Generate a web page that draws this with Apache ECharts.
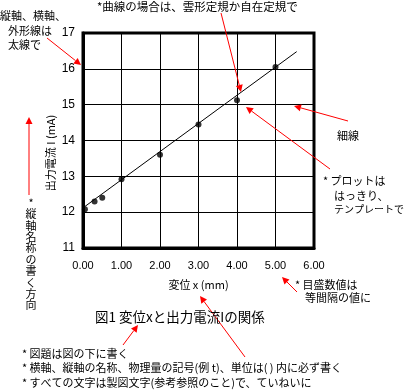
<!DOCTYPE html>
<html><head><meta charset="utf-8">
<script src="https://cdn.jsdelivr.net/npm/echarts@6/dist/echarts.min.js"></script>
<style>html,body{margin:0;padding:0;background:#fff}#c{width:405px;height:390px}</style>
</head><body><div id="c"></div>
<script>
// ---- data ----
const xValues = [0.05, 0.3, 0.5, 1.0, 2.0, 3.0, 4.0, 5.0];
const yValues = [12.08, 12.3, 12.4, 12.92, 13.6, 14.45, 15.12, 16.05];
const fitX = [0, 5.55];
const fitY = [12.12, 16.48];
const xTicks = ['0.00', '1.00', '2.00', '3.00', '4.00', '5.00', '6.00'];
const yTicks = ['11', '12', '13', '14', '15', '16', '17'];
const xName = '変位 x (mm)';
const yName = '出力電流 I (mA)';
const title = '図1 変位xと出力電流Iの関係';

const JP = '"Noto Sans CJK JP", sans-serif';
const RED = '#ff0000';

function arrow(x1, y1, x2, y2) {
  const a = Math.atan2(y2 - y1, x2 - x1);
  const L = 7, W = 3.5;
  const bx = x2 - L * Math.cos(a), by = y2 - L * Math.sin(a);
  const px = -Math.sin(a) * W, py = Math.cos(a) * W;
  return [
    { type: 'line', silent: true, shape: { x1, y1, x2: bx, y2: by }, style: { stroke: RED, lineWidth: 1 } },
    { type: 'polygon', silent: true, shape: { points: [[x2, y2], [bx + px, by + py], [bx - px, by - py]] }, style: { fill: RED } }
  ];
}
function txt(s, x, y, size, extra) {
  return Object.assign({ type: 'text', silent: true, x, y,
    style: { text: s, font: size + 'px ' + JP, fill: '#000', textAlign: 'left', textVerticalAlign: 'middle' } }, extra || {});
}

const graphics = [].concat(
  arrow(47, 38, 81, 65),
  arrow(221, 13, 241, 92),
  arrow(330, 169, 246, 107),
  arrow(348, 121, 294, 106),
  arrow(29, 195, 29, 117),
  arrow(297, 292, 282, 277),
  arrow(123, 345, 138, 325),
  arrow(245, 357, 200, 296),
  [
    txt('縦軸、横軸、', 0, 16, 11),
    txt('外形線は', 8, 31, 11),
    txt('太線で', 8, 45, 11),
    txt('*曲線の場合は、雲形定規か自在定規で', 97, 7, 11.5),
    txt('細線', 337, 136, 11),
    txt('* プロットは', 323, 181, 11),
    txt('はっきり、', 334, 196, 11),
    txt('テンプレートで', 334, 209, 10),
    txt('* 目盛数値は', 295, 285, 11),
    txt('等間隔の値に', 305, 298, 11),
    txt(title, 95, 317, 13.5),
    txt('* 図題は図の下に書く', 22, 354, 11),
    txt('* 横軸、縦軸の名称、物理量の記号(例 t)、単位は( ) 内に必ず書く', 22, 368, 11),
    txt('* すべての文字は製図文字(参考参照のこと)で、ていねいに', 22, 383, 11),
    { type: 'text', silent: true, x: 31, y: 197,
      style: { text: '*縦軸名称の書く方向'.split('').join('\n'), font: '11px ' + JP, fill: '#000',
               textAlign: 'center', textVerticalAlign: 'top', lineHeight: 11.4 } },
    { type: 'text', silent: true, x: 51, y: 153, rotation: Math.PI / 2,
      style: { text: yName, font: '11px ' + JP, fill: '#000', textAlign: 'center', textVerticalAlign: 'middle' } }
  ]
);

const chart = echarts.init(document.getElementById('c'), null, { renderer: 'canvas' });
chart.setOption({
  animation: false,
  backgroundColor: '#fff',
  grid: { left: 83, top: 33, right: 91, bottom: 142, show: true, borderColor: '#000', borderWidth: 3, backgroundColor: 'transparent' },
  xAxis: {
    type: 'value', min: 0, max: 6, interval: 1,
    name: xName, nameLocation: 'middle', nameGap: 31,
    nameTextStyle: { fontFamily: JP, fontSize: 11, color: '#000' },
    axisLine: { show: true, lineStyle: { color: '#000', width: 3 } },
    axisTick: { show: false },
    axisLabel: { color: '#000', fontFamily: 'Liberation Sans', fontSize: 11, margin: 12,
      formatter: v => xTicks[Math.round(v)] },
    splitLine: { show: true, lineStyle: { color: '#000', width: 1 } }
  },
  yAxis: {
    type: 'value', min: 11, max: 17, interval: 1,
    axisLine: { show: true, lineStyle: { color: '#000', width: 3 } },
    axisTick: { show: false },
    axisLabel: { color: '#000', fontFamily: 'Liberation Sans', fontSize: 12, margin: 8,
      formatter: v => yTicks[Math.round(v - 11)] },
    splitLine: { show: true, lineStyle: { color: '#000', width: 1 } }
  },
  series: [
    { type: 'line', data: fitX.map((x, i) => [x, fitY[i]]), symbol: 'none',
      lineStyle: { color: '#000', width: 1 }, silent: true, z: 3 },
    { type: 'scatter', data: xValues.map((x, i) => [x, yValues[i]]), symbol: 'circle', symbolSize: 6,
      itemStyle: { color: '#000' }, z: 4 }
  ],
  graphic: { elements: graphics.map(g => Object.assign({ z: 100 }, g)) }
});
</script>
</body></html>
